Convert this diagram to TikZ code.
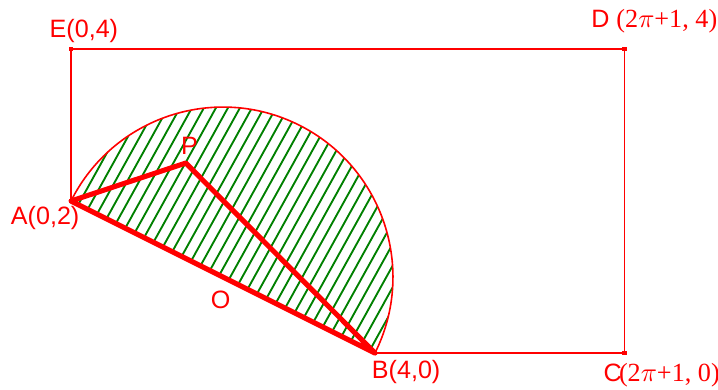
\documentclass[tikz,border=0pt]{standalone}
\usepackage{fontspec}
\setmainfont{Liberation Sans}
\newfontfamily\timesfont{Liberation Serif}
\usepackage{xcolor}
\usetikzlibrary{arrows.meta,positioning,calc}
\definecolor{hatchgreen}{RGB}{0,128,0}
\tikzset{
  pointmark/.style={rectangle,fill=red,inner sep=0pt,minimum size=1.7pt},
  pointlabel/.style={text=red,font=\fontsize{9.4}{10}\selectfont,inner sep=0pt},
  rectline/.style={draw=red,line width=0.6pt},
  triangleline/.style={draw=red,line width=1.9pt,line join=round},
  hatchline/.style={draw=hatchgreen,line width=0.7pt}
}

\begin{document}
\begin{tikzpicture}[x=1cm,y=1cm]
  \useasboundingbox (-0.934,-0.474) rectangle (8.513,4.645);
  % corner points of the rectangle and of the triangle
  \node[pointmark] (E) at (0,4) {};
  \node[pointmark] (D) at ({2*pi+1},4) {};
  \node[pointmark] (C) at ({2*pi+1},0) {};
  \node[pointmark] (B) at (4,0) {};
  \node[pointmark] (A) at (0,2) {};
  \node[pointmark] (P) at (1.51,2.50) {};
  \node[circle,fill=red,inner sep=0pt,minimum size=1pt] (O) at (2,1) {};

  % hatched half disc on AB
  \begin{scope}
    \clip (A.center) arc[start angle=153.435,end angle=-26.565,radius={sqrt(5)}] -- cycle;
    \foreach \i in {-26,...,32}
      \draw[hatchline] ({\i*0.158},-0.5) -- ++({5.5*cot(61)},5.5);
  \end{scope}
  \draw[red,line width=0.6pt] (A.center) arc[start angle=153.435,end angle=-26.565,radius={sqrt(5)}];

  % the rectangle
  \draw[rectline] (A.center) -- (E.center) -- (D.center) -- (C.center) -- (B.center);

  % the triangle APB
  \draw[triangleline] (A.center) -- (P.center) -- (B.center) -- cycle;

  % labels
  \node[pointlabel] (Elabel) at (0.17,4.24) {E(0,4)};
  \node[pointlabel,anchor=west] (Dlabel) at (6.84,4.36)
    {D {\timesfont\fontsize{9.8}{10}\selectfont(2$\pi$+1, 4)}};
  \node[pointlabel,anchor=west] (Clabel) at (7.0,-0.29)
    {C\hspace{-1pt}{\timesfont\fontsize{9.8}{10}\selectfont(2$\pi$+1, 0)}};
  \node[pointlabel] (Blabel) at (4.41,-0.25) {B(4,0)};
  \node[pointlabel] (Alabel) at (-0.34,1.78) {A(0,2)};
  \node[pointlabel] (Plabel) at (1.56,2.72) {P};
  \node[pointlabel] (Olabel) at (1.97,0.70) {O};
\end{tikzpicture}
\end{document}
